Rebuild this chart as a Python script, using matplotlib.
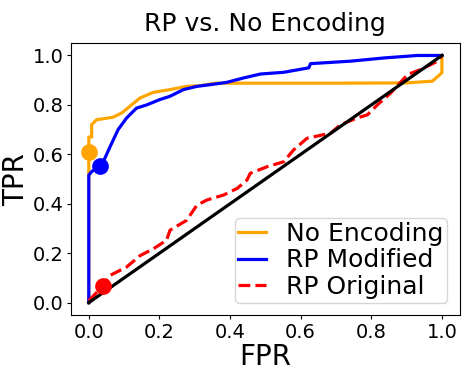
import numpy as np
import matplotlib
matplotlib.use('Agg')
import matplotlib.pyplot as plt

# ROC curve for the model without encoding
fpr_none = [0.0, 0.0, 0.0, 0.008, 0.008, 0.022, 0.068, 0.093, 0.121, 0.145, 0.183, 0.23,
            0.277, 0.315, 0.36, 0.5, 0.7, 0.9, 0.973, 1.0, 1.0]
tpr_none = [0.0, 0.61, 0.67, 0.67, 0.72, 0.74, 0.75, 0.767, 0.80, 0.828, 0.851, 0.862,
            0.875, 0.878, 0.888, 0.888, 0.888, 0.889, 0.896, 0.93, 1.0]

# ROC curve for RP modified
fpr_mod = [0.0, 0.0, 0.008, 0.031, 0.041, 0.06, 0.083, 0.107, 0.135, 0.164, 0.20, 0.23,
           0.268, 0.306, 0.344, 0.39, 0.438, 0.486, 0.552, 0.623, 0.628, 0.741, 0.836, 0.93, 1.0]
tpr_mod = [0.0, 0.516, 0.53, 0.553, 0.57, 0.63, 0.70, 0.747, 0.787, 0.80, 0.821, 0.835,
           0.862, 0.875, 0.882, 0.891, 0.909, 0.925, 0.932, 0.95, 0.967, 0.977, 0.99, 1.0, 1.0]

# ROC curve for RP original
fpr_orig = [0.0, 0.041, 0.06, 0.107, 0.145, 0.183, 0.22, 0.23, 0.277, 0.306, 0.334, 0.381,
            0.42, 0.448, 0.457, 0.505, 0.552, 0.58, 0.618, 0.685, 0.713, 0.76, 0.789, 0.817,
            0.855, 0.903, 0.94, 0.988, 1.0]
tpr_orig = [0.008, 0.069, 0.11, 0.144, 0.19, 0.218, 0.252, 0.293, 0.333, 0.394, 0.415, 0.435,
            0.462, 0.496, 0.523, 0.55, 0.57, 0.618, 0.665, 0.686, 0.72, 0.747, 0.76, 0.80,
            0.848, 0.923, 0.943, 0.977, 1.0]

# chosen operating points
point_none = (0.0, 0.61)
point_mod = (0.031, 0.553)
point_orig = (0.041, 0.069)

fig = plt.figure(figsize=(4.68, 3.75), dpi=100)
plt.plot(fpr_none, tpr_none, color='orange', lw=2.3, label='No Encoding')
plt.plot(fpr_mod, tpr_mod, color='blue', lw=2.3, label='RP Modified')
plt.plot(fpr_orig, tpr_orig, color='red', lw=2.3, ls='--', label='RP Original')
plt.plot([0, 1], [0, 1], color='black', lw=2.3)
plt.plot(*point_none, 'o', color='orange', markersize=11)
plt.plot(*point_mod, 'o', color='blue', markersize=11)
plt.plot(*point_orig, 'o', color='red', markersize=11)

plt.title('RP vs. No Encoding', fontsize=18, pad=9)
plt.xlabel('FPR', fontsize=20, labelpad=1)
plt.ylabel('TPR', fontsize=20, labelpad=2)
plt.tick_params(labelsize=14, length=2.8, pad=2.6)
plt.legend(loc='lower right', fontsize=18, handlelength=1.1, borderpad=0.15,
           labelspacing=0.1)
plt.subplots_adjust(left=0.152, right=0.982, bottom=0.16, top=0.885)
plt.savefig('out.png', dpi=100)
